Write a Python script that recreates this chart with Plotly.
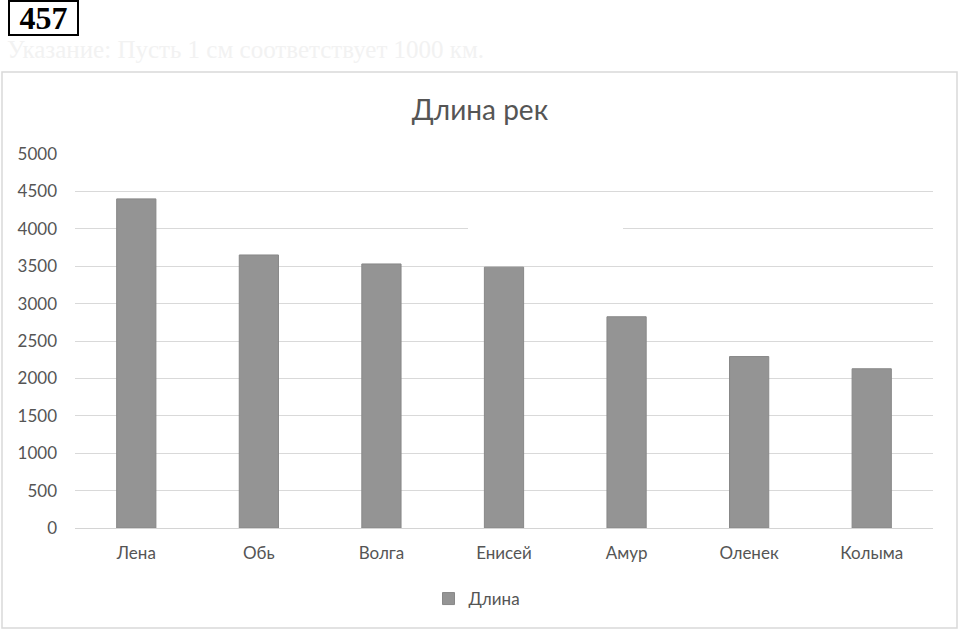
import plotly.graph_objects as go

# Данные: длина рек, км
rivers = ['Лена', 'Обь', 'Волга', 'Енисей', 'Амур', 'Оленек', 'Колыма']
lengths = [4400, 3650, 3530, 3487, 2824, 2292, 2129]
y_ticks = [0, 500, 1000, 1500, 2000, 2500, 3000, 3500, 4000, 4500, 5000]

W, H = 960, 629
font_family = 'Lato, "Open Sans", sans-serif'
text_color = '#555555'

fig = go.Figure()

fig.add_trace(go.Bar(
    x=rivers,
    y=lengths,
    name='Длина',
    marker=dict(color='#949494', line=dict(color='#888888', width=1)),
    showlegend=True,
))

fig.update_layout(
    width=W,
    height=H,
    margin=dict(l=0, r=0, t=0, b=0, autoexpand=False),
    paper_bgcolor='white',
    plot_bgcolor='white',
    font=dict(family=font_family, color=text_color, size=17),
    bargap=0.68,
    title=dict(
        text='Длина рек',
        x=0.5, xanchor='center',
        y=1 - 110 / H, yanchor='middle',
        font=dict(size=28, color=text_color),
    ),
    xaxis=dict(
        domain=[75 / W, 933 / W],
        automargin=False,
        showgrid=False,
        showline=True,
        linecolor='#d4d4d4',
        linewidth=1,
        ticks='',
        tickfont=dict(size=17, color=text_color),
        ticklabelstandoff=10,
    ),
    yaxis=dict(
        domain=[1 - 528 / H, 1 - 154 / H],
        automargin=False,
        range=[0, 5000],
        tickvals=y_ticks,
        showgrid=True,
        gridcolor='#d9d9d9',
        gridwidth=1,
        zeroline=False,
        showline=False,
        ticks='',
        tickfont=dict(size=17, color=text_color),
        ticklabelstandoff=17,
    ),
    legend=dict(
        orientation='h',
        x=0.5 - 3 / W, xanchor='center',
        y=1 - 599 / H, yanchor='middle',
        font=dict(size=17, color=text_color),
        itemwidth=30,
    ),
)

# рамка диаграммы
fig.add_shape(
    type='rect', xref='paper', yref='paper',
    x0=2 / W, x1=957 / W, y0=1 - 628 / H, y1=1 - 72 / H,
    line=dict(color='#d9d9d9', width=1.5),
)

# разрыв линии сетки на скане
fig.add_shape(
    type='line', xref='paper', yref='y',
    x0=468 / W, x1=623 / W, y0=4000, y1=4000,
    line=dict(color='white', width=3),
)

# номер задачи в рамке
fig.add_annotation(
    text='<b>457</b>', xref='paper', yref='paper',
    x=43.5 / W, y=1 - 18 / H, xanchor='center', yanchor='middle',
    showarrow=False,
    width=63, height=28,
    font=dict(family='"Liberation Serif", serif', size=32, color='black'),
    bordercolor='black', borderwidth=2, borderpad=2,
)

# бледная строка текста из учебника
fig.add_annotation(
    text='Указание: Пусть 1 см соответствует 1000 км.',
    xref='paper', yref='paper',
    x=5 / W, y=1 - 50 / H, xanchor='left', yanchor='middle',
    showarrow=False,
    font=dict(family='"Liberation Serif", serif', size=25, color='#f2f2f2'),
)

# убрать отступ body, чтобы фигура начиналась с (0, 0)
fig.write_html(
    "out.html",
    config={'displayModeBar': False},
    post_script="document.body.style.margin='0';",
)
